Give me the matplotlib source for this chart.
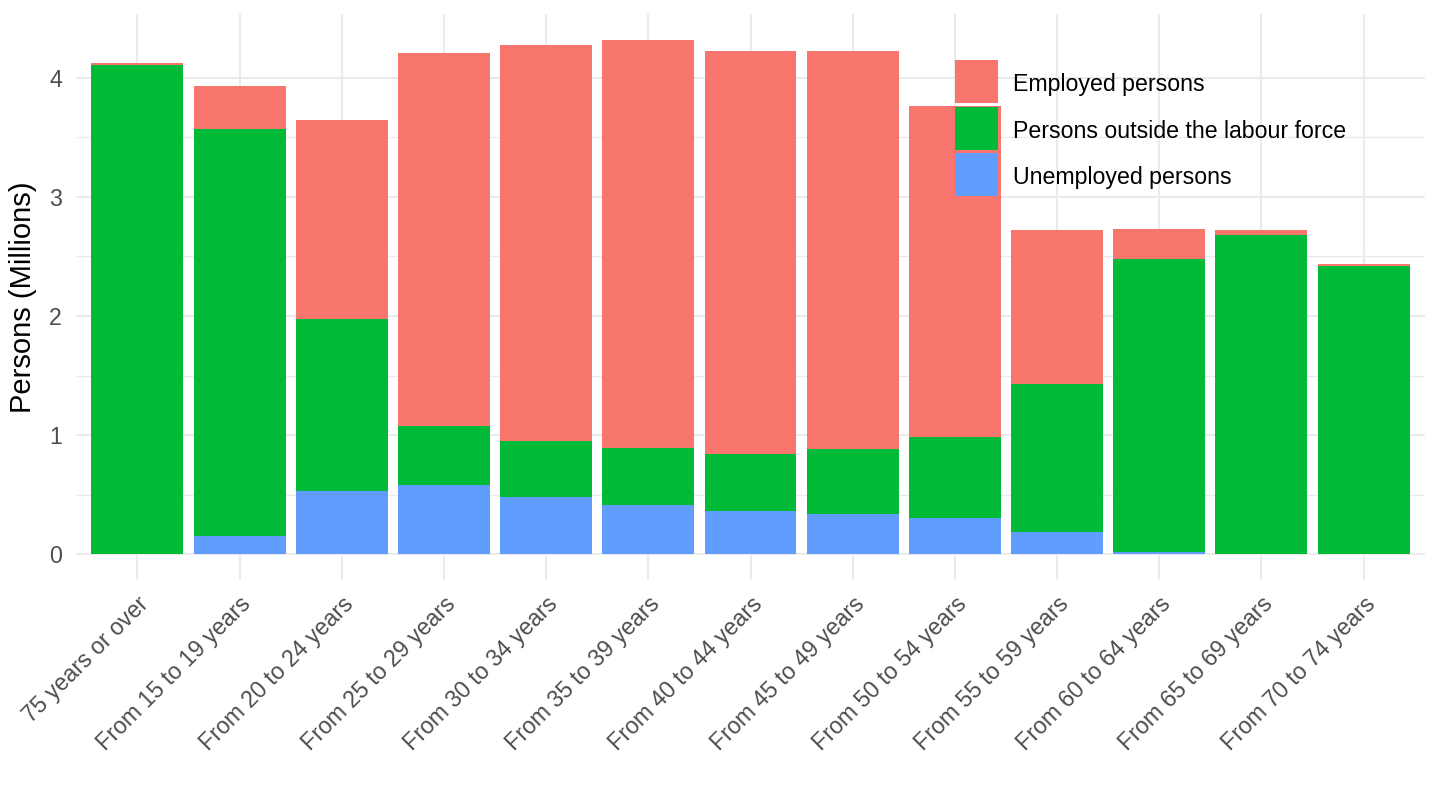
import numpy as np
import matplotlib
matplotlib.use("Agg")
import matplotlib.pyplot as plt
from matplotlib.patches import Patch, Rectangle
from matplotlib.legend_handler import HandlerPatch

plt.rcParams['font.family'] = ['Liberation Sans', 'DejaVu Sans']

# Age groups (in the order shown)
ages = [
    "75 years or over", "From 15 to 19 years", "From 20 to 24 years",
    "From 25 to 29 years", "From 30 to 34 years", "From 35 to 39 years",
    "From 40 to 44 years", "From 45 to 49 years", "From 50 to 54 years",
    "From 55 to 59 years", "From 60 to 64 years", "From 65 to 69 years",
    "From 70 to 74 years",
]

# Persons, millions (stack segments, bottom to top)
unemployed = [0.000, 0.153, 0.531, 0.581, 0.480, 0.413, 0.361, 0.338, 0.303, 0.188, 0.020, 0.000, 0.000]
outside    = [4.104, 3.420, 1.442, 0.494, 0.471, 0.477, 0.480, 0.544, 0.680, 1.240, 2.457, 2.680, 2.418]
employed   = [0.023, 0.361, 1.669, 3.130, 3.321, 3.425, 3.382, 3.341, 2.777, 1.292, 0.253, 0.040, 0.017]

c_emp = "#F8766D"
c_out = "#00BA38"
c_unemp = "#619CFF"

x = np.arange(len(ages))
unemployed = np.array(unemployed)
outside = np.array(outside)
employed = np.array(employed)

fig = plt.figure(figsize=(14.4, 8.1), dpi=100)
ax = fig.add_axes([76/1440, 1 - 580/810, 1349/1440, 565.5/810])

ax.bar(x, unemployed, width=0.9, color=c_unemp, zorder=2)
ax.bar(x, outside, width=0.9, bottom=unemployed, color=c_out, zorder=2)
ax.bar(x, employed, width=0.9, bottom=unemployed + outside, color=c_emp, zorder=2)

ax.set_xlim(-0.6, len(ages) - 0.4)
ax.set_ylim(-0.216, 4.531)
ax.set_yticks([0, 1, 2, 3, 4])
ax.set_yticks([0.5, 1.5, 2.5, 3.5], minor=True)
ax.set_xticks(x)
ax.set_xticklabels(ages, rotation=45, ha="right", va="top", rotation_mode="anchor")

ax.grid(True, which="major", color="#EBEBEB", linewidth=1.5, zorder=0)
ax.grid(True, which="minor", axis="y", color="#EBEBEB", linewidth=0.9, zorder=0)
ax.set_axisbelow(True)
for s in ax.spines.values():
    s.set_visible(False)
ax.tick_params(axis="both", which="both", length=0, labelsize=16.7, labelcolor="#4D4D4D")
ax.tick_params(axis="y", pad=10)
ax.tick_params(axis="x", pad=9)

ax.set_ylabel("Persons (Millions)", fontsize=21, color="black")
ax.yaxis.set_label_coords(-0.0289, 0.5)


# square keys with a small gap, nudged up so the label sits at the key's middle
def key_box(legend, orig_handle, xdescent, ydescent, width, height, fontsize):
    gap = 0.076 * fontsize
    return Rectangle((-xdescent + gap, -0.593 * fontsize + gap),
                     width - 2 * gap, height - 2 * gap)


handles = [
    Patch(facecolor=c_emp, edgecolor="none", label="Employed persons"),
    Patch(facecolor=c_out, edgecolor="none", label="Persons outside the labour force"),
    Patch(facecolor=c_unemp, edgecolor="none", label="Unemployed persons"),
]
fig.legend(handles=handles, loc="upper left",
           bbox_to_anchor=(953.25/1440, 1 - 60.8/810),
           fontsize=16.7, frameon=False, borderpad=0, borderaxespad=0,
           handlelength=2.005, handleheight=2.708, labelspacing=0,
           handletextpad=0.59,
           handler_map={Patch: HandlerPatch(patch_func=key_box)})

fig.savefig("out.png", dpi=100)
